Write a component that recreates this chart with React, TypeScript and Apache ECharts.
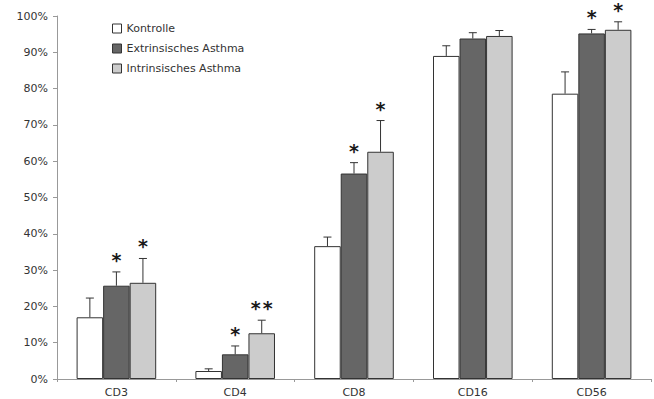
import React, { useEffect, useRef } from "react";
import * as echarts from "echarts";

const categories = ["CD3", "CD4", "CD8", "CD16", "CD56"];
const seriesNames = ["Kontrolle", "Extrinsisches Asthma", "Intrinsisches Asthma"];
const kontrolle = [17, 2.2, 36.6, 89, 78.6];
const kontrolleErr = [5.3, 0.6, 2.5, 2.8, 6];
const kontrolleSig = ["", "", "", "", ""];
const extrinsisch = [25.7, 6.8, 56.6, 93.8, 95.2];
const extrinsischErr = [3.8, 2.3, 3, 1.6, 1.1];
const extrinsischSig = ["*", "*", "*", "", "*"];
const intrinsisch = [26.5, 12.6, 62.6, 94.5, 96.2];
const intrinsischErr = [6.7, 3.6, 8.6, 1.5, 2.2];
const intrinsischSig = ["*", "**", "*", "", "*"];
const yTicks = [0, 10, 20, 30, 40, 50, 60, 70, 80, 90, 100];

const colors = ["#ffffff", "#666666", "#cccccc"];
const CAT_GAP = 0.33;

export default function App() {
  const ref = useRef<HTMLDivElement>(null);
  useEffect(() => {
    if (!ref.current) return;
    const chart = echarts.init(ref.current, null, { renderer: "svg" });
    const values = [kontrolle, extrinsisch, intrinsisch];
    const errs = [kontrolleErr, extrinsischErr, intrinsischErr];
    const sigs = [kontrolleSig, extrinsischSig, intrinsischSig];
    const font = "DejaVu Sans, Arial, sans-serif";

    const barSeries = values.map((v, i) => ({
      type: "bar",
      name: seriesNames[i],
      data: v,
      barGap: "0%",
      barCategoryGap: CAT_GAP * 100 + "%",
      itemStyle: { color: colors[i], borderColor: "#333333", borderWidth: 1 },
    }));

    const errSeries = values.map((v, i) => ({
      type: "custom",
      name: "err" + i,
      z: 5,
      data: v.map((val, c) => [c, val, errs[i][c]]),
      renderItem: (params: any, api: any) => {
        const c = api.value(0);
        const val = api.value(1);
        const e = api.value(2);
        const sig = sigs[i][c] || "";
        const band = api.size([1, 0])[0];
        const bw = (band * (1 - CAT_GAP)) / 3;
        const base = api.coord([c, val]);
        const top = api.coord([c, val + e]);
        const x = base[0] + (i - 1) * bw;
        const children: any[] = [
          { type: "line", shape: { x1: x, y1: base[1], x2: x, y2: top[1] }, style: { stroke: "#333", lineWidth: 1 } },
          { type: "line", shape: { x1: x - 4, y1: top[1], x2: x + 4, y2: top[1] }, style: { stroke: "#333", lineWidth: 1 } },
        ];
        const n = sig.length;
        for (let k = 0; k < n; k++) {
          const sx = x + (k - (n - 1) / 2) * 12;
          children.push({
            type: "text",
            style: {
              text: "*",
              x: sx,
              y: top[1] - 12,
              align: "center",
              verticalAlign: "middle",
              fontSize: 19,
              fontWeight: "bold",
              fontFamily: font,
              fill: "#1a1a1a",
            },
          });
        }
        return { type: "group", children };
      },
    }));

    chart.setOption({
      animation: false,
      backgroundColor: "#ffffff",
      grid: { left: 57, right: 3, top: 16, bottom: 20, containLabel: false },
      legend: {
        data: seriesNames,
        orient: "vertical",
        left: 107,
        top: 18,
        itemWidth: 9,
        itemHeight: 9,
        itemGap: 9,
        icon: "rect",
        textStyle: { fontSize: 11, color: "#333", fontFamily: font },
        itemStyle: { borderColor: "#333", borderWidth: 1 },
      },
      xAxis: {
        type: "category",
        data: categories,
        axisLine: { lineStyle: { color: "#999", width: 1 } },
        axisTick: { show: true, length: 3, lineStyle: { color: "#999" } },
        axisLabel: { fontSize: 11, color: "#333", fontFamily: font, margin: 8 },
      },
      yAxis: {
        type: "value",
        min: yTicks[0],
        max: yTicks[yTicks.length - 1],
        interval: 10,
        axisLine: { show: true, lineStyle: { color: "#999", width: 1 } },
        axisTick: { show: true, length: 4, lineStyle: { color: "#999" } },
        splitLine: { show: false },
        axisLabel: { fontSize: 11, color: "#333", fontFamily: font, margin: 9, formatter: "{value}%" },
      },
      series: [...barSeries, ...errSeries],
    });
    return () => chart.dispose();
  }, []);
  return <div ref={ref} style={{ width: 654, height: 399, position: "absolute", left: 0, top: 0 }} />;
}
